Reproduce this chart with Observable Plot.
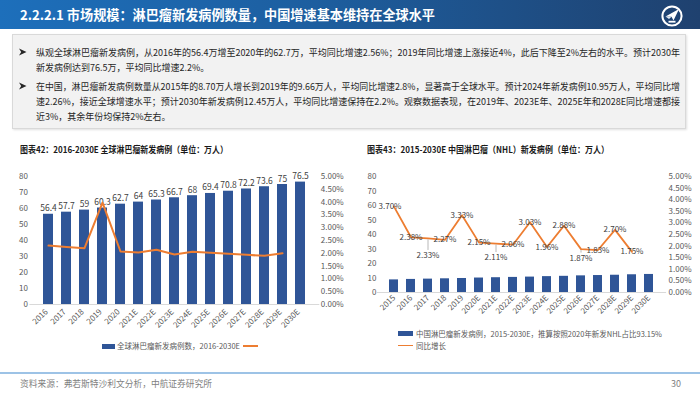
<!DOCTYPE html>
<html><head><meta charset="utf-8">
<script src="https://cdn.jsdelivr.net/npm/d3@7"></script>
<script src="https://cdn.jsdelivr.net/npm/@observablehq/plot@0.6"></script>
<style>
html,body{margin:0;padding:0;}
body{width:700px;height:394px;position:relative;overflow:hidden;background:#fff;font-family:"Noto Sans CJK SC","Noto Sans",sans-serif;}
.abs{position:absolute;white-space:nowrap;}
.fit{display:inline-block;transform-origin:left center;}
#hdr{left:0;top:0;width:700px;height:29px;background:linear-gradient(90deg,#1d6fbb 0%,#1d5e9f 45%,#1f416f 100%);}
#box{left:12px;top:34px;width:672px;height:93px;background:#f2f2f2;border:1px solid #d9d9d9;box-shadow:1px 1px 2px rgba(0,0,0,0.12);}
.line{font-size:9.5px;color:#262626;line-height:12px;left:36px;}
.ctitle{font-size:9px;font-weight:bold;color:#1a1a1a;line-height:12px;}
.leg{font-size:7.5px;color:#595959;line-height:10px;}
</style></head><body>
<div id="hdr" class="abs"></div>
<div class="abs" style="left:20px;top:6px;line-height:17px;font-size:13.5px;font-weight:bold;color:#fff;"><span class="fit" data-w="415">2.2.2.1 市场规模：淋巴瘤新发病例数量，中国增速基本维持在全球水平</span></div>
<svg class="abs" style="left:660px;top:4px" width="24" height="24" viewBox="0 0 24 24">
<circle cx="12" cy="12" r="9.6" fill="none" stroke="#fff" stroke-width="2"/>
<path d="M5.5 12.5 L19 5 L13.5 16.5 L11.5 12.8 Z" fill="#fff"/>
<path d="M5.5 12.5 L11.5 12.8 L9 15 Z" fill="#dfe8f3"/>
<rect x="8.5" y="16.8" width="7" height="1.8" fill="#fff"/>
</svg>
<div id="box" class="abs"></div>
<svg class="abs" style="left:19px;top:48px" width="8" height="8" viewBox="0 0 8 8"><polygon points="0,0.5 7.5,4 0,7.5 2.2,4" fill="#262626"/></svg>
<svg class="abs" style="left:19px;top:82px" width="8" height="8" viewBox="0 0 8 8"><polygon points="0,0.5 7.5,4 0,7.5 2.2,4" fill="#262626"/></svg>
<div class="abs line" style="top:46px"><span class="fit" id="l1" data-w="644">纵观全球淋巴瘤新发病例，从2016年的56.4万增至2020年的62.7万，平均同比增速2.56%；2019年同比增速上涨接近4%，此后下降至2%左右的水平。预计2030年</span></div>
<div class="abs line" style="top:61px"><span class="fit" id="l2" data-ref="l1">新发病例达到76.5万，平均同比增速2.2%。</span></div>
<div class="abs line" style="top:80px"><span class="fit" id="l3" data-w="644">在中国，淋巴瘤新发病例数量从2015年的8.70万人增长到2019年的9.66万人，平均同比增速2.8%，显著高于全球水平。预计2024年新发病例10.95万人，平均同比增</span></div>
<div class="abs line" style="top:95px"><span class="fit" id="l4" data-w="644">速2.26%，接近全球增速水平；预计2030年新发病例12.45万人，平均同比增速保持在2.2%。观察数据表现，在2019年、2023E年、2025E年和2028E同比增速都接</span></div>
<div class="abs line" style="top:110px"><span class="fit" id="l5" data-ref="l4">近3%，其余年份均保持2%左右。</span></div>

<div class="abs ctitle" style="left:20px;top:144px"><span class="fit" data-w="208">图表42：2016-2030E 全球淋巴瘤新发病例（单位：万人）</span></div>
<div class="abs ctitle" style="left:367px;top:144px"><span class="fit" data-w="242">图表43：2015-2030E 中国淋巴瘤（NHL）新发病例（单位：万人）</span></div>

<div id="chartL" class="abs" style="left:0;top:160px"></div>
<div id="chartR" class="abs" style="left:350px;top:160px"></div>

<div class="abs" style="left:102px;top:343.5px;width:13px;height:5px;background:#2f5597"></div>
<div class="abs leg" style="left:117px;top:341px"><span class="fit" data-w="123">全球淋巴瘤新发病例数，2016-2030E</span></div>
<div class="abs" style="left:243px;top:345.3px;width:15px;height:1.5px;background:#ed7d31"></div>

<div class="abs" style="left:398px;top:331px;width:15px;height:5px;background:#2f5597"></div>
<div class="abs leg" style="left:416px;top:328.5px"><span class="fit" data-w="246">中国淋巴瘤新发病例，2015-2030E，推算按照2020年新发NHL占比93.15%</span></div>
<div class="abs" style="left:398px;top:344.8px;width:15px;height:1.5px;background:#ed7d31"></div>
<div class="abs leg" style="left:416px;top:340.5px">同比增长</div>

<div class="abs" style="left:0;top:372px;width:700px;height:1.5px;background:#9dc3e6"></div>
<div class="abs" style="left:20px;top:378px;font-size:9px;line-height:12px;color:#7f7f7f"><span class="fit" data-w="192">资料来源：弗若斯特沙利文分析，中航证券研究所</span></div>
<div class="abs" style="left:671px;top:378px;font-size:9px;line-height:12px;color:#7f7f7f">30</div>

<script>
// ---- data ----
const globalYears = ["2016","2017","2018","2019","2020","2021E","2022E","2023E","2024E","2025E","2026E","2027E","2028E","2029E","2030E"];
const globalCases = [56.4,57.7,59,60.3,62.7,64,65.3,66.7,68,69.4,70.8,72.2,73.6,75,76.5];
const globalGrowthYears = ["2016","2017","2018","2019","2020","2021E","2022E","2023E","2024E","2025E","2026E","2027E","2028E","2029E"];
const globalGrowth = [2.30,2.25,2.20,3.98,2.07,2.03,2.14,1.95,2.06,2.02,1.98,1.94,1.90,2.00];

const chinaYears = ["2015","2016","2017","2018","2019","2020E","2021E","2022E","2023E","2024E","2025E","2026E","2027E","2028E","2029E","2030E"];
const chinaCases = [8.70,9.02,9.23,9.45,9.66,9.98,10.20,10.41,10.63,10.95,11.16,11.48,11.70,11.91,12.23,12.45];
const chinaGrowthYears = ["2015","2016","2017","2018","2019","2020E","2021E","2022E","2023E","2024E","2025E","2026E","2027E","2028E","2029E"];
const chinaGrowth = [3.70,2.38,2.33,2.27,3.33,2.15,2.11,2.06,3.03,1.96,2.88,1.87,1.83,2.70,1.75];

const countTicks = [0,10,20,30,40,50,60,70,80];
const pctTicks = [0,0.5,1,1.5,2,2.5,3,3.5,4,4.5,5];

// ---- styling helpers ----
const K = 80 / 5; // maps percent onto the count axis (5% == 80)
const BLUE = "#2f5597", ORANGE = "#ed7d31", GRAY = "#595959";
const FONT = "'Noto Sans CJK SC','Noto Sans',sans-serif";

const gBars = globalYears.map((y, i) => ({year: y, v: globalCases[i]}));
const gLine = globalGrowthYears.map((y, i) => ({year: y, g: globalGrowth[i]}));
const cBars = chinaYears.map((y, i) => ({year: y, v: chinaCases[i]}));
const labelDy = {"2017": 17, "2021E": 14, "2026E": 9};
const labelDx = {"2015": -4};
const cLine = chinaGrowthYears.map((y, i) => ({year: y, g: chinaGrowth[i], dy: labelDy[y] || 0, dx: labelDx[y] || 0}));
const offsetGroups = Array.from(new Set(cLine.map(d => d.dx + "," + d.dy)));

const left = Plot.plot({
  width: 350, height: 180,
  marginTop: 16, marginBottom: 36, marginLeft: 29.4, marginRight: 30.7,
  style: {fontFamily: FONT, fontSize: "8px", color: GRAY, background: "transparent"},
  x: {type: "band", domain: globalYears, padding: 0.44},
  y: {domain: [0, 80]},
  marks: [
    Plot.ruleY([0], {stroke: "#d9d9d9"}),
    Plot.barY(gBars, {x: "year", y: "v", fill: BLUE}),
    Plot.text(gBars, {x: "year", y: "v", text: d => String(d.v), lineAnchor: "bottom", dy: -3, fontSize: 8.5, fill: "#404040"}),
    Plot.line(gLine, {x: "year", y: d => d.g * K, stroke: ORANGE, strokeWidth: 2}),
    Plot.axisY(countTicks, {anchor: "left", tickSize: 0, tickPadding: 2, label: null, fill: GRAY}),
    Plot.axisY(pctTicks.map(p => p * K), {anchor: "right", tickSize: 0, tickPadding: 1, label: null, tickFormat: d => (d / K).toFixed(2) + "%", fill: GRAY}),
    Plot.axisX({tickRotate: -45, tickSize: 0, tickPadding: 6, dx: -2, label: null, fill: GRAY})
  ]
});
document.getElementById("chartL").appendChild(left);

const upp = 80 / 116; // units per pixel on right chart
const right = Plot.plot({
  width: 350, height: 170,
  marginTop: 16, marginBottom: 38, marginLeft: 26.9, marginRight: 33.9,
  style: {fontFamily: FONT, fontSize: "8px", color: GRAY, background: "transparent"},
  x: {type: "band", domain: chinaYears, padding: 0.46},
  y: {domain: [0, 80]},
  marks: [
    Plot.ruleY([0], {stroke: "#d9d9d9"}),
    Plot.barY(cBars, {x: "year", y: "v", fill: BLUE}),
    Plot.line(cLine, {x: "year", y: d => d.g * K, stroke: ORANGE, strokeWidth: 1.8}),
    Plot.ruleX(cLine.filter(d => d.dy > 0), {x: "year", y1: d => d.g * K - 1.5 * upp, y2: d => d.g * K - (d.dy - 5) * upp, stroke: "#a6a6a6", strokeWidth: 0.8}),
    ...offsetGroups.map(key => {
      const [dx, dy] = key.split(",").map(Number);
      return Plot.text(cLine.filter(d => d.dx === dx && d.dy === dy), {x: "year", y: d => d.g * K, text: d => d.g.toFixed(2) + "%", dx, dy, fontSize: 8, fill: "#404040"});
    }),
    Plot.axisY(countTicks, {anchor: "left", tickSize: 0, tickPadding: 1, label: null, fill: GRAY}),
    Plot.axisY(pctTicks.map(p => p * K), {anchor: "right", tickSize: 0, tickPadding: 2, label: null, tickFormat: d => (d / K).toFixed(2) + "%", fill: GRAY}),
    Plot.axisX({tickRotate: -45, tickSize: 0, tickPadding: 4, label: null, fill: GRAY})
  ]
});
document.getElementById("chartR").appendChild(right);

// ---- fit text spans to the measured widths in the reference ----
const scales = {};
document.querySelectorAll(".fit[data-w]").forEach(el => {
  const w = el.getBoundingClientRect().width;
  const s = (+el.dataset.w) / w;
  el.style.transform = `scaleX(${s})`;
  if (el.id) scales[el.id] = s;
});
document.querySelectorAll(".fit[data-ref]").forEach(el => {
  el.style.transform = `scaleX(${scales[el.dataset.ref] || 1})`;
});
</script>
</body></html>
